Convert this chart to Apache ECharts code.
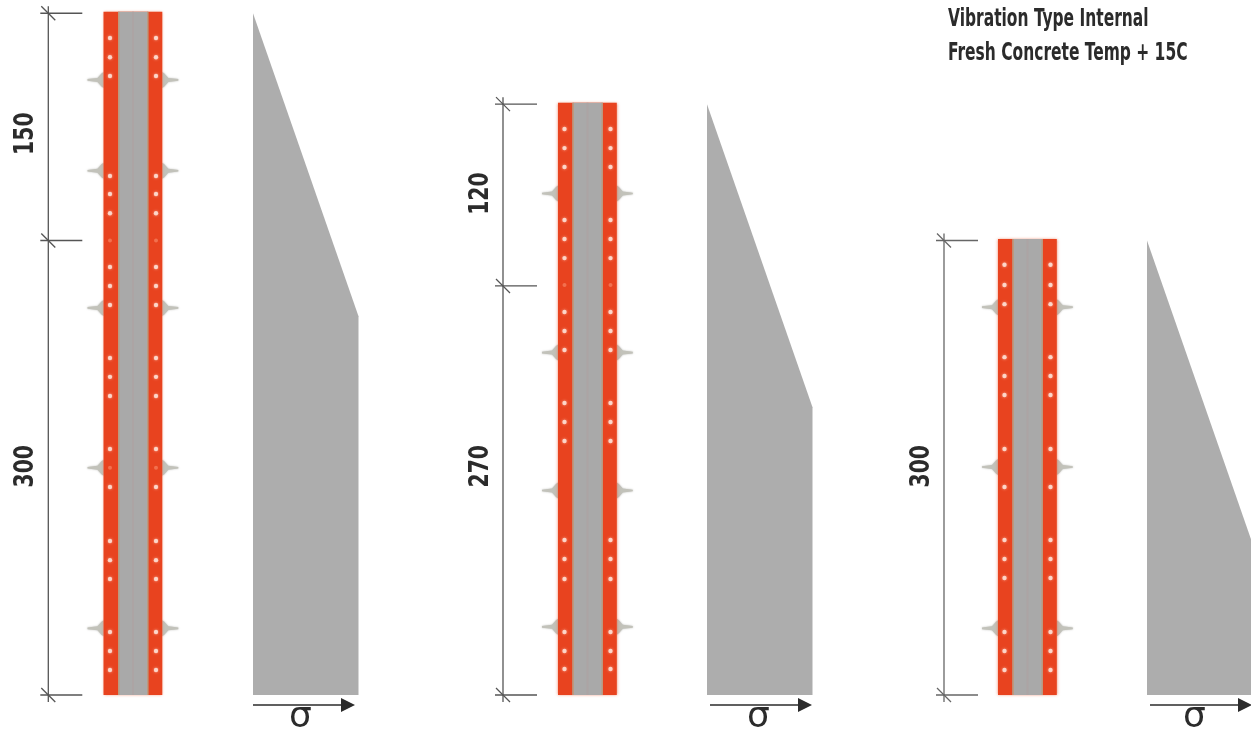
<!DOCTYPE html>
<html><head><meta charset="utf-8">
<style>html,body{margin:0;padding:0;background:#fff}#c{width:1251px;height:738px}</style>
<script src="https://cdn.jsdelivr.net/npm/echarts@6/dist/echarts.min.js"></script>
</head><body><div id="c"></div>
<script>
// Lift heights of each pour (cm, top to bottom) and total pour height
const lifts = [[150, 300], [120, 270], [300]];
const pourHeights = [450, 390, 300];
const hydrostaticHead = 200;
const sigmaMax = 105.5;
const sigmaLabel = 'σ';
const titleLines = ['Vibration Type Internal', 'Fresh Concrete Temp + 15C'];
// Heights (cm) of the ties and the form-face dots, per panel
const tieHeights = [[406, 346, 255.5, 150, 44], [331, 226, 135, 45], [256, 150.5, 44]];
const dotHeights = [
  [433.7, 421, 408.6, 342.6, 330.7, 318, 282.5, 270, 257.4, 222.4, 210, 197.4, 162.4, 137.3, 101.7, 89, 76.6, 41.6, 29, 16.5],
  [373.6, 361, 348.5, 313.5, 301, 288.4, 252.8, 240.3, 227.7, 192.7, 180.2, 167.7, 102.3, 89.8, 76.6, 41.6, 29, 17.2],
  [284, 270.6, 258, 223, 210.6, 198, 162.4, 137.3, 102.3, 89.8, 77.2, 41.6, 29, 16.5]
];
const faintDotHeights = [[300, 150], [270.6], []];
const dimLabelHeights = [[370.5, 151], [331, 151], [151]];
// Layout along x (page scale)
const dimX = [48.3, 503, 944];
const wallLeft = [103.5, 558, 998];
const pressLeft = [253, 707, 1147];

const ORANGE = '#e8431f', CORE = '#a9a9a9', PRESS = '#adadad', DIM = '#555', INK = '#2b2b2b';
const TXT = 'DejaVu Sans Condensed';

const panels = [0, 1, 2];
const wallRender = (p, api) => {
  const i = api.value(0), top = pourHeights[i] + 1, L = wallLeft[i];
  const [x0, y0] = api.coord([L, top]);
  const [, y1] = api.coord([L, 0]);
  const h = y1 - y0;
  const r = (x, w, c, extra) => ({type: 'rect', shape: {x: x0 + x, y: y0, width: w, height: h}, style: Object.assign({fill: c}, extra || {})});
  return {type: 'group', children: [
    r(0, 58.8, ORANGE, {shadowBlur: 3, shadowColor: 'rgba(232,90,50,0.8)'}),
    r(14.5, 30.3, CORE),
    r(14.5, 1.5, '#bb9a7e'), r(43.5, 1.3, '#bb9a7e'), r(28.5, 2, '#aca4a4')
  ]};
};
const pressRender = (p, api) => {
  const i = api.value(0), L = pressLeft[i], top = pourHeights[i];
  const pts = [[L, top], [L + sigmaMax, top - hydrostaticHead], [L + sigmaMax, 0], [L, 0]].map(q => api.coord(q));
  return {type: 'polygon', shape: {points: pts}, style: {fill: PRESS}};
};
const tieData = [];
panels.forEach(i => tieHeights[i].forEach(h => tieData.push([i, h])));
const tieRender = (p, api) => {
  const i = api.value(0), h = api.value(1);
  const [xl, y] = api.coord([wallLeft[i], h]);
  const xr = xl + 58.8;
  const cone = [[0, -8], [-2, -6.5], [-6, -2], [-16, -0.8], [-16, 0.8], [-6, 2], [-2, 6.5], [0, 8]];
  const st = {fill: '#c2c2ba', shadowBlur: 2, shadowColor: 'rgba(170,170,165,0.8)'};
  return {type: 'group', children: [
    {type: 'polygon', shape: {points: cone.map(c => [xl + c[0], y + c[1]])}, style: st},
    {type: 'polygon', shape: {points: cone.map(c => [xr - c[0], y + c[1]])}, style: st}
  ]};
};
const dimData = panels.map(i => [i]);
const dimRender = (p, api) => {
  const i = api.value(0), X = dimX[i];
  const stops = [pourHeights[i]];
  lifts[i].forEach(l => stops.push(stops[stops.length - 1] - l));
  const pts = stops.map(s => api.coord([X, s]));
  const st = {stroke: i === 2 ? '#666' : DIM, lineWidth: 1.3, fill: null};
  const line = (a, b, c, d) => ({type: 'line', shape: {x1: a, y1: b, x2: c, y2: d}, style: st});
  const ch = [line(pts[0][0], pts[0][1] - 7, pts[0][0], pts[pts.length - 1][1] + 7)];
  pts.forEach(q => {
    ch.push(line(q[0] - 8, q[1], q[0] + 34, q[1]));
    ch.push(line(q[0] - 7, q[1] - 7, q[0] + 7, q[1] + 7));
  });
  return {type: 'group', children: ch};
};
const arrowRender = (p, api) => {
  const i = api.value(0), L = pressLeft[i] + (i === 0 ? 0 : 3);
  const [x, y] = api.coord([L, -6.6]);
  const len = 101;
  return {type: 'group', children: [
    {type: 'line', shape: {x1: x, y1: y, x2: x + len - 10, y2: y}, style: {stroke: INK, lineWidth: 1.6}},
    {type: 'polygon', shape: {points: [[x + len - 13, y - 7], [x + len + 1, y], [x + len - 13, y + 7]]}, style: {fill: INK}},
    {type: 'text', x: pressLeft[i] + 47.5 + (i === 1 ? 4 : 0), y: y + 13,
     style: {text: sigmaLabel, font: '36px "DejaVu Sans"', fill: INK, align: 'center', verticalAlign: 'middle'}}
  ]};
};
const textData = [];
panels.forEach(i => lifts[i].forEach((l, k) => textData.push([i, dimLabelHeights[i][k], String(l)])));
const dimTextRender = (p, api) => {
  const i = api.value(0);
  const [x, y] = api.coord([dimX[i] - 24.5 + 1, api.value(1)]);
  return {type: 'text', x: x + 1, y, rotation: Math.PI / 2, scaleX: 0.84, scaleY: 1,
    style: {text: textData[p.dataIndex][2], font: 'bold 27px "' + TXT + '"', fill: INK, align: 'center', verticalAlign: 'middle'}};
};
const titleRender = () => ({type: 'group', children: titleLines.map((t, k) => ({
    type: 'text', x: 948, y: 20 + 33.5 * k, scaleX: 0.717, scaleY: 1,
    style: {text: t, font: 'bold 24px "' + TXT + '"', fill: INK, align: 'left', verticalAlign: 'middle'}}))});
const dots = [], faint = [];
panels.forEach(i => {
  [wallLeft[i] + 6.5, wallLeft[i] + 52.5].forEach(x => {
    dotHeights[i].forEach(h => dots.push([x, h]));
    faintDotHeights[i].forEach(h => faint.push([x, h]));
  });
});
const ds = panels.map(i => [i]);
const option = {
  animation: false,
  backgroundColor: '#fff',
  grid: {left: 0, right: 0, top: 0, bottom: 0},
  xAxis: {type: 'value', min: 0, max: 1251, show: false},
  yAxis: {type: 'value', min: -28.38, max: 458.75, show: false},
  series: [
    {type: 'custom', renderItem: pressRender, data: ds, clip: true, silent: true},
    {type: 'custom', renderItem: tieRender, data: tieData, clip: true, silent: true},
    {type: 'custom', renderItem: wallRender, data: ds, clip: true, silent: true},
    {type: 'scatter', data: faint, symbolSize: 4, itemStyle: {color: 'rgba(255,170,140,0.55)'}, silent: true},
    {type: 'scatter', data: dots, symbolSize: 4.4, itemStyle: {color: '#ffece4', shadowBlur: 3, shadowColor: 'rgba(255,200,180,0.9)'}, silent: true},
    {type: 'custom', renderItem: dimRender, data: dimData, clip: true, silent: true},
    {type: 'custom', renderItem: arrowRender, data: ds, clip: true, silent: true},
    {type: 'custom', renderItem: dimTextRender, data: textData.map(d => [d[0], d[1]]), silent: true},
    {type: 'custom', renderItem: titleRender, data: [[0]], silent: true}
  ]
};
echarts.init(document.getElementById('c')).setOption(option);
</script></body></html>
